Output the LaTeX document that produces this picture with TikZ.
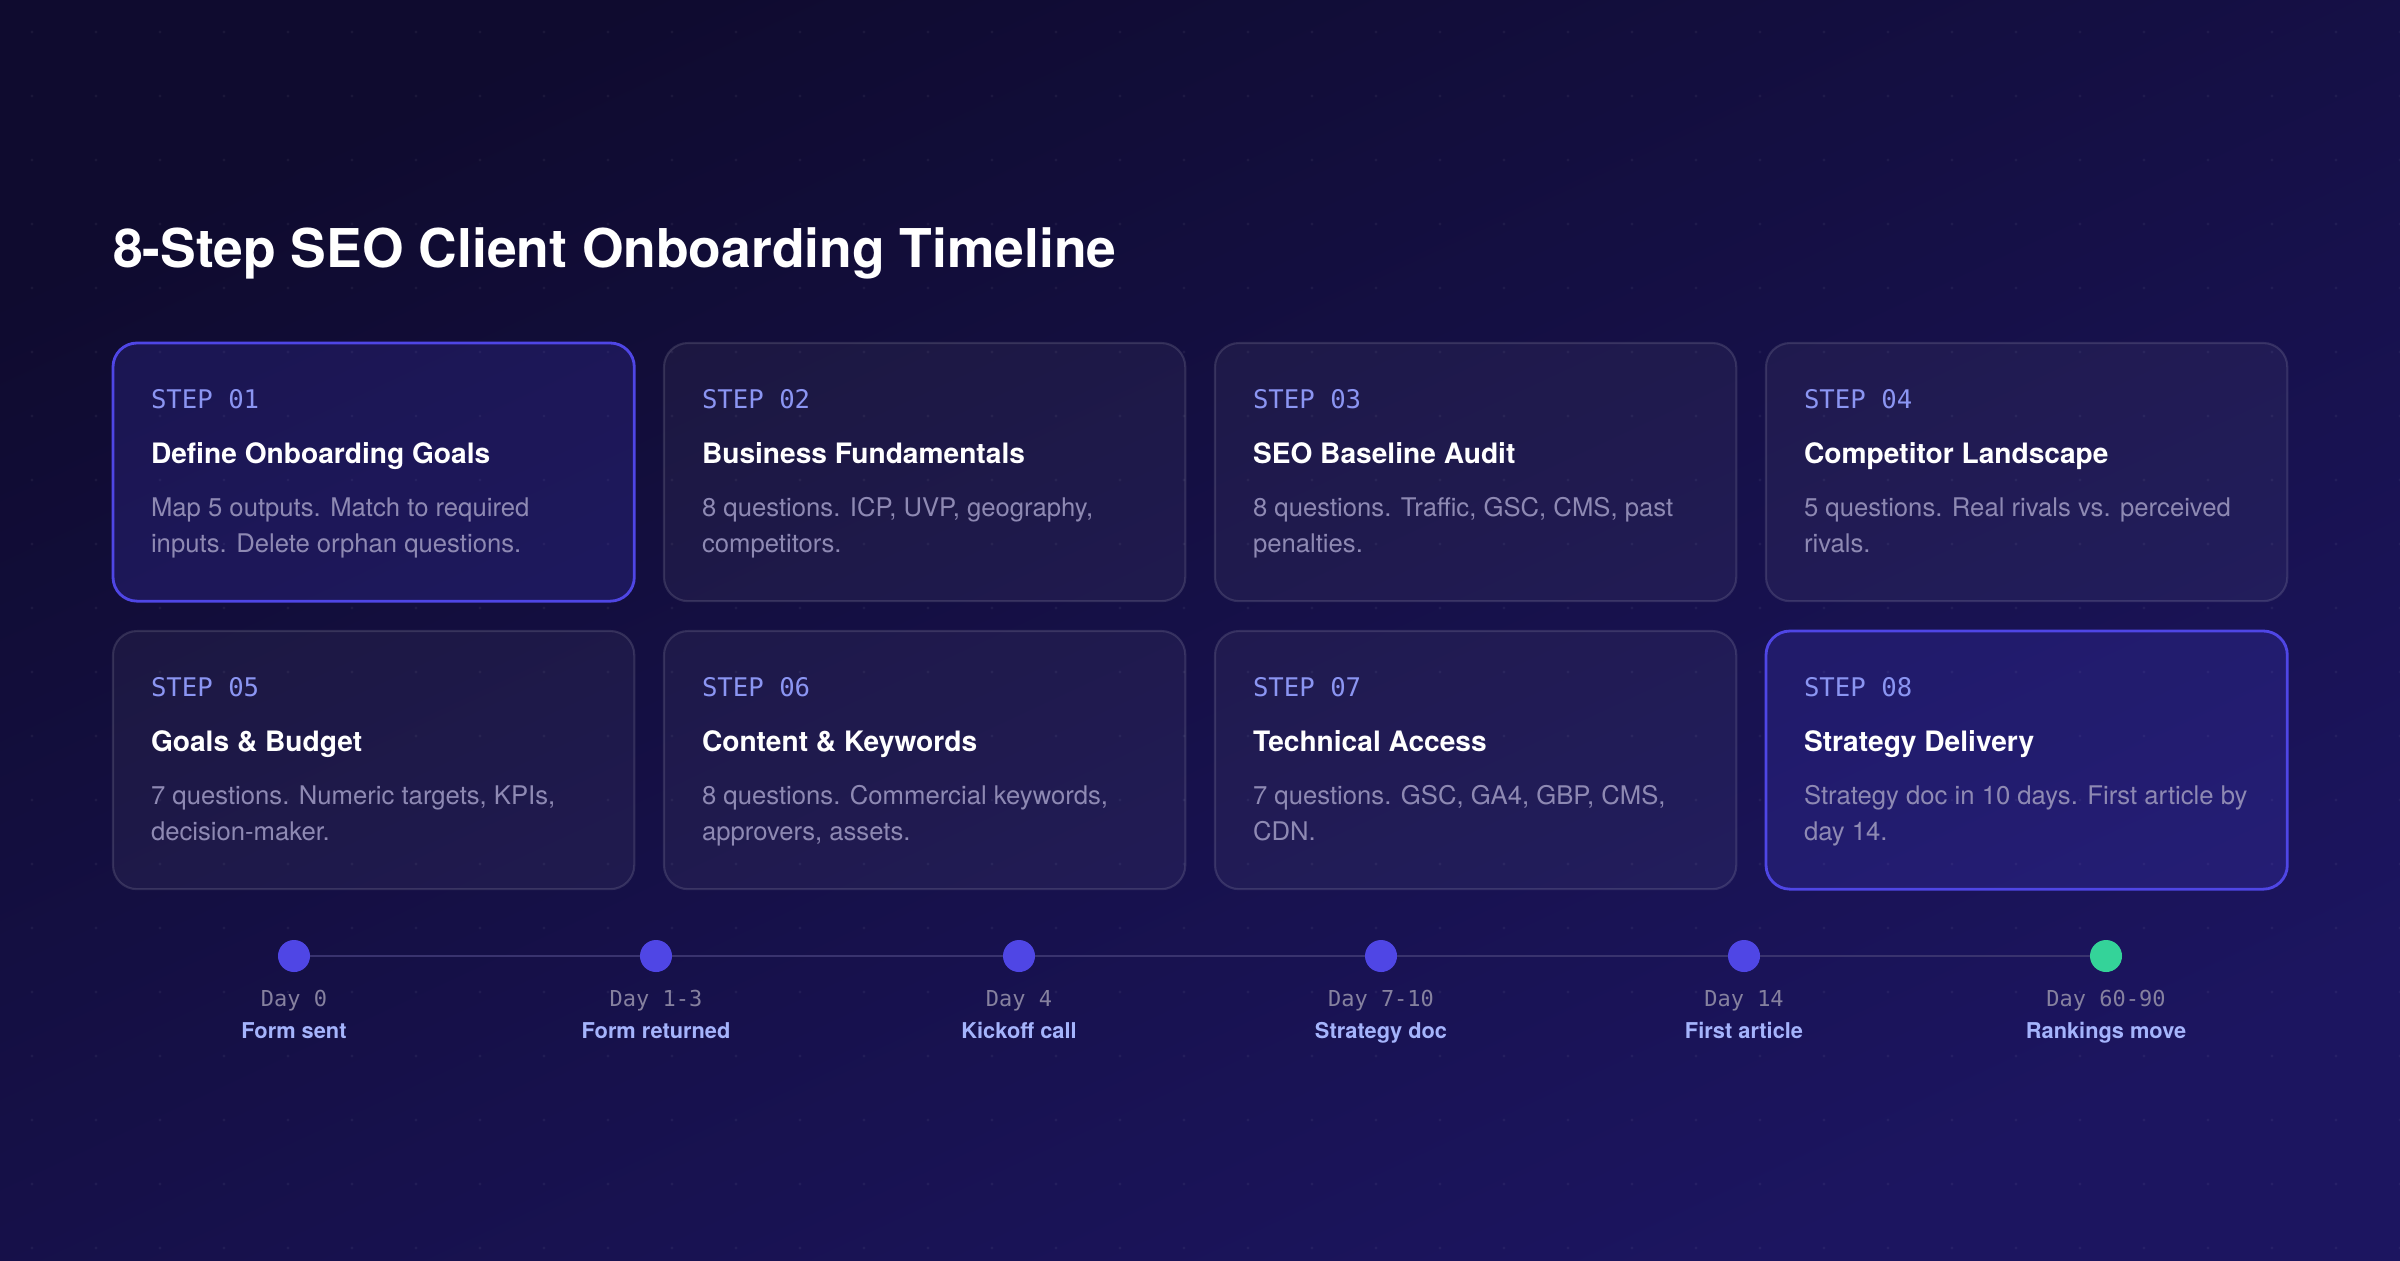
\documentclass[tikz,border=0pt]{standalone}
\usepackage{fontspec}
\setmainfont{TeX Gyre Heros}
\setmonofont{DejaVu Sans Mono}
\usetikzlibrary{positioning,calc}
\definecolor{bgtop}{HTML}{0F0B2F}
\definecolor{bgbot}{HTML}{1C1560}
\definecolor{indigo}{HTML}{4F46E5}
\definecolor{steplbl}{HTML}{8B95F2}
\definecolor{desctxt}{HTML}{8E89B3}
\definecolor{daytxt}{HTML}{86819F}
\definecolor{miletxt}{HTML}{A5B4FC}
\definecolor{mint}{HTML}{34D399}
\definecolor{trackln}{HTML}{39336E}
\tikzset{x=0.01cm, y=-0.01cm, % one unit is one pixel, y runs downwards
every node/.style={inner sep=0pt, outer sep=0pt}, % text sits exactly where it is put
}

\begin{document}
\begin{tikzpicture}[
	card/.style={draw=white, draw opacity=0.12, fill=white, fill opacity=0.045, text opacity=1, line width=0.6pt, rounded corners=0.24cm, minimum width=5.21cm, minimum height=2.58cm, anchor=north west},
	hicard/.style={card, draw=indigo, draw opacity=1, fill=indigo, fill opacity=0.18, line width=0.8pt},
	steptag/.style={anchor=base west, text=steplbl, font=\ttfamily\fontsize{7.3pt}{8pt}\selectfont},
	steptitle/.style={anchor=base west, text=white, font=\bfseries\fontsize{8pt}{9pt}\selectfont},
	stepdesc/.style={anchor=base west, text=desctxt, font=\fontsize{7.3pt}{8pt}\selectfont},
	milestone/.style={circle, fill=indigo, minimum size=0.32cm},
	daylbl/.style={anchor=base, text=daytxt, font=\ttfamily\fontsize{6.25pt}{7pt}\selectfont},
	milelbl/.style={anchor=base, text=miletxt, font=\bfseries\fontsize{6.2pt}{7pt}\selectfont}]
\useasboundingbox (0,0) rectangle (2400,1260);
\shade[top color=bgtop, bottom color=bgbot, shading angle=25] (0,0) rectangle (2400,1260);
% faint dot grid
\foreach \gx in {32,96,...,2400}
	\foreach \gy in {32,96,...,1260}
		\fill[white, opacity=0.05] (\gx,\gy) circle[radius=0.45pt];

\node[anchor=base west, text=white, font=\bfseries\fontsize{15.2pt}{18pt}\selectfont] (ttl) at (113,267) {8-Step SEO Client Onboarding Timeline};

% cards, first row
\node[hicard] (c1) at (113,343) {};
\node[card] (c2) at (664,343) {};
\node[card] (c3) at (1215,343) {};
\node[card] (c4) at (1766,343) {};
% second row
\node[card] (c5) at (113,631) {};
\node[card] (c6) at (664,631) {};
\node[card] (c7) at (1215,631) {};
\node[hicard] (c8) at (1766,631) {};

\node[steptag] (s1) at ($(c1.north west)+(38,65)$) {STEP 01};
\node[steptitle] (h1) at ($(c1.north west)+(38,120)$) {Define Onboarding Goals};
\node[stepdesc] (a1) at ($(c1.north west)+(38,173)$) {Map 5 outputs. Match to required};
\node[stepdesc] (b1) at ($(c1.north west)+(38,209)$) {inputs. Delete orphan questions.};

\node[steptag] (s2) at ($(c2.north west)+(38,65)$) {STEP 02};
\node[steptitle] (h2) at ($(c2.north west)+(38,120)$) {Business Fundamentals};
\node[stepdesc] (a2) at ($(c2.north west)+(38,173)$) {8 questions. ICP, UVP, geography,};
\node[stepdesc] (b2) at ($(c2.north west)+(38,209)$) {competitors.};

\node[steptag] (s3) at ($(c3.north west)+(38,65)$) {STEP 03};
\node[steptitle] (h3) at ($(c3.north west)+(38,120)$) {SEO Baseline Audit};
\node[stepdesc] (a3) at ($(c3.north west)+(38,173)$) {8 questions. Traffic, GSC, CMS, past};
\node[stepdesc] (b3) at ($(c3.north west)+(38,209)$) {penalties.};

\node[steptag] (s4) at ($(c4.north west)+(38,65)$) {STEP 04};
\node[steptitle] (h4) at ($(c4.north west)+(38,120)$) {Competitor Landscape};
\node[stepdesc] (a4) at ($(c4.north west)+(38,173)$) {5 questions. Real rivals vs. perceived};
\node[stepdesc] (b4) at ($(c4.north west)+(38,209)$) {rivals.};

\node[steptag] (s5) at ($(c5.north west)+(38,65)$) {STEP 05};
\node[steptitle] (h5) at ($(c5.north west)+(38,120)$) {Goals \& Budget};
\node[stepdesc] (a5) at ($(c5.north west)+(38,173)$) {7 questions. Numeric targets, KPIs,};
\node[stepdesc] (b5) at ($(c5.north west)+(38,209)$) {decision-maker.};

\node[steptag] (s6) at ($(c6.north west)+(38,65)$) {STEP 06};
\node[steptitle] (h6) at ($(c6.north west)+(38,120)$) {Content \& Keywords};
\node[stepdesc] (a6) at ($(c6.north west)+(38,173)$) {8 questions. Commercial keywords,};
\node[stepdesc] (b6) at ($(c6.north west)+(38,209)$) {approvers, assets.};

\node[steptag] (s7) at ($(c7.north west)+(38,65)$) {STEP 07};
\node[steptitle] (h7) at ($(c7.north west)+(38,120)$) {Technical Access};
\node[stepdesc] (a7) at ($(c7.north west)+(38,173)$) {7 questions. GSC, GA4, GBP, CMS,};
\node[stepdesc] (b7) at ($(c7.north west)+(38,209)$) {CDN.};

\node[steptag] (s8) at ($(c8.north west)+(38,65)$) {STEP 08};
\node[steptitle] (h8) at ($(c8.north west)+(38,120)$) {Strategy Delivery};
\node[stepdesc] (a8) at ($(c8.north west)+(38,173)$) {Strategy doc in 10 days. First article by};
\node[stepdesc] (b8) at ($(c8.north west)+(38,209)$) {day 14.};

% timeline
\node[milestone] (d1) at (294,956) {};
\node[milestone] (d2) at (656,956) {};
\node[milestone] (d3) at (1019,956) {};
\node[milestone] (d4) at (1381,956) {};
\node[milestone] (d5) at (1744,956) {};
\node[milestone, fill=mint] (d6) at (2106,956) {};
\draw[trackln, line width=0.6pt] (d1) -- (d2) -- (d3) -- (d4) -- (d5) -- (d6);

\node[daylbl] (y1) at ($(d1)+(0,50)$) {Day 0};
\node[milelbl] (m1) at ($(d1)+(0,82)$) {Form sent};
\node[daylbl] (y2) at ($(d2)+(0,50)$) {Day 1-3};
\node[milelbl] (m2) at ($(d2)+(0,82)$) {Form returned};
\node[daylbl] (y3) at ($(d3)+(0,50)$) {Day 4};
\node[milelbl] (m3) at ($(d3)+(0,82)$) {Kickoff call};
\node[daylbl] (y4) at ($(d4)+(0,50)$) {Day 7-10};
\node[milelbl] (m4) at ($(d4)+(0,82)$) {Strategy doc};
\node[daylbl] (y5) at ($(d5)+(0,50)$) {Day 14};
\node[milelbl] (m5) at ($(d5)+(0,82)$) {First article};
\node[daylbl] (y6) at ($(d6)+(0,50)$) {Day 60-90};
\node[milelbl] (m6) at ($(d6)+(0,82)$) {Rankings move};
\end{tikzpicture}
\end{document}
